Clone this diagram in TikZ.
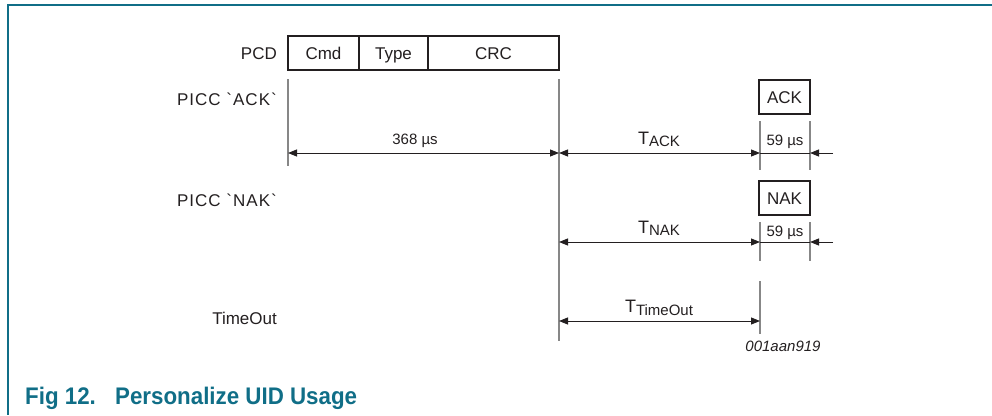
\documentclass[tikz,border=0pt]{standalone}
\usepackage{fontspec}
\setmainfont{Liberation Sans}
\newfontfamily\capfont[FakeStretch=0.93]{Liberation Sans}
\newfontfamily\spfont[LetterSpace=6]{Liberation Sans}
\usetikzlibrary{arrows.meta}
\definecolor{nxpteal}{RGB}{16,110,135}
\definecolor{vgrey}{RGB}{135,135,135}
\definecolor{ink}{RGB}{35,31,32}
\begin{document}
\begin{tikzpicture}[x=1pt,y=-1pt,
  lbl/.style={inner sep=0pt, anchor=base east, text=ink, font=\fontsize{17}{20}\selectfont},
  boxtxt/.style={inner sep=0pt, anchor=base, text=ink, font=\fontsize{17}{20}\selectfont},
  dimtxt/.style={inner sep=0pt, anchor=base, text=ink, font=\fontsize{15}{18}\selectfont},
  framebox/.style={draw=ink, line width=2pt, fill=white},
  vline/.style={draw=vgrey, line width=1.3pt},
  dimboth/.style={draw=ink, line width=0.9pt, {Triangle[length=9pt,width=7pt]}-{Triangle[length=9pt,width=7pt]}},
  dimend/.style={draw=ink, line width=0.9pt, -{Triangle[length=9pt,width=7pt]}},
  plain/.style={draw=ink, line width=0.9pt}
]
\useasboundingbox (0,0) rectangle (992,415);
% frame
\draw[nxpteal, line width=2pt] (992,5) -- (8,5) -- (8,415);

% row labels
\node[lbl] (lpcd) at (277,59) {PCD};
\node[lbl] (lack) at (277,105) {\spfont PICC `ACK`};
\node[lbl] (lnak) at (277,206) {\spfont PICC `NAK`};
\node[lbl] (lto) at (277,324) {TimeOut};

% PCD frame
\draw[framebox] (288,36) rectangle (559,70);
\draw[draw=ink, line width=2pt] (359,36) -- (359,70) (428,36) -- (428,70);
\node[boxtxt] (cmd) at (323.5,59) {Cmd};
\node[boxtxt] (type) at (393.5,59) {Type};
\node[boxtxt] (crc) at (493.5,59) {CRC};

% ACK / NAK boxes
\node[framebox, minimum width=51pt, minimum height=34pt, inner sep=0pt] (ack) at (784.5,97) {};
\node[boxtxt] (acktxt) at (784.5,103) {ACK};
\node[framebox, minimum width=51pt, minimum height=34pt, inner sep=0pt] (nak) at (784.5,198) {};
\node[boxtxt] (naktxt) at (784.5,204) {NAK};

% coordinates
\coordinate (v1t) at (288,79);  \coordinate (v1b) at (288,166);
\coordinate (v2t) at (559,79);  \coordinate (v2b) at (559,341);
\coordinate (v3t) at (760,121); \coordinate (v3b) at (760,170);
\coordinate (v4t) at (810,121); \coordinate (v4b) at (810,170);
\coordinate (v5t) at (760,222); \coordinate (v5b) at (760,261);
\coordinate (v6t) at (810,222); \coordinate (v6b) at (810,261);
\coordinate (v7t) at (760,281); \coordinate (v7b) at (760,334);

\draw[vline] (v1t) -- (v1b);
\draw[vline] (v2t) -- (v2b);
\draw[vline] (v3t) -- (v3b);
\draw[vline] (v4t) -- (v4b);
\draw[vline] (v5t) -- (v5b);
\draw[vline] (v6t) -- (v6b);
\draw[vline] (v7t) -- (v7b);

% ACK row
\coordinate (a1) at (288,153); \coordinate (a2) at (559,153);
\coordinate (a3) at (760,153); \coordinate (a4) at (810,153);
\coordinate (a5) at (833,153);
\draw[dimboth] (a1) -- (a2);
\draw[dimboth] (a2) -- (a3);
\draw[plain] (a3) -- (a4);
\draw[dimend] (a5) -- (a4);
\node[dimtxt] (t368) at (415,144.5) {368 µs};
\node[inner sep=0pt, anchor=base, text=ink] (tack) at (659,144) {\fontsize{18}{20}\selectfont T\raisebox{-2.5pt}{\fontsize{15}{18}\selectfont ACK}};
\node[dimtxt] (t59a) at (785,145.5) {59 µs};

% NAK row
\coordinate (n2) at (559,242); \coordinate (n3) at (760,242);
\coordinate (n4) at (810,242); \coordinate (n5) at (833,242);
\draw[dimboth] (n2) -- (n3);
\draw[plain] (n3) -- (n4);
\draw[dimend] (n5) -- (n4);
\node[inner sep=0pt, anchor=base, text=ink] (tnak) at (659,233) {\fontsize{18}{20}\selectfont T\raisebox{-2.5pt}{\fontsize{15}{18}\selectfont NAK}};
\node[dimtxt] (t59b) at (785,236) {59 µs};

% TimeOut row
\coordinate (o2) at (559,321); \coordinate (o3) at (760,321);
\draw[dimboth] (o2) -- (o3);
\node[inner sep=0pt, anchor=base, text=ink] (tto) at (659,312) {\fontsize{18}{20}\selectfont T\raisebox{-3pt}{\fontsize{15}{18}\selectfont TimeOut}};

\node[dimtxt, font=\fontsize{15}{18}\selectfont\itshape] (fid) at (783,351) {001aan919};

% caption
\node[inner sep=0pt, anchor=base west, text=nxpteal, font=\capfont\bfseries\fontsize{24}{28}\selectfont] (cap1) at (25,404) {Fig 12.};
\node[inner sep=0pt, anchor=base west, text=nxpteal, font=\capfont\bfseries\fontsize{24}{28}\selectfont] (cap2) at (115,404) {Personalize UID Usage};
\end{tikzpicture}
\end{document}
